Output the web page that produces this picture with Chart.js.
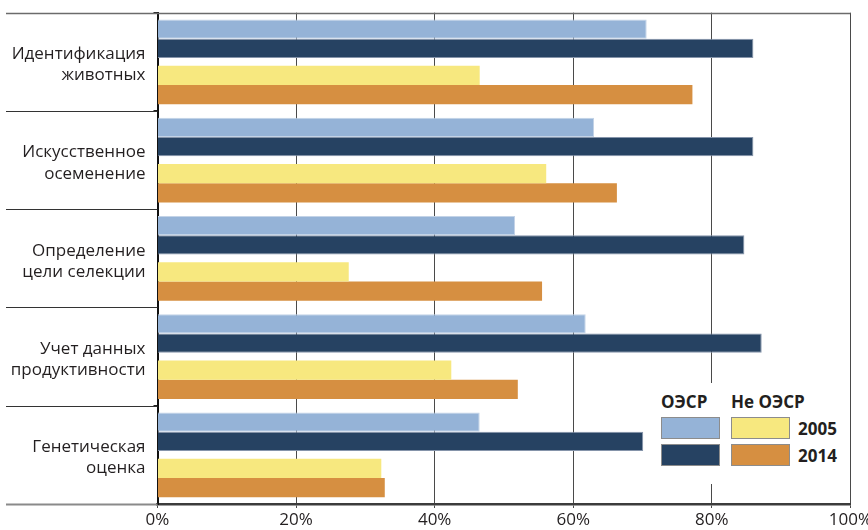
<!DOCTYPE html>
<html lang="ru">
<head>
  <meta charset="UTF-8">
  <title>Селекционные технологии: ОЭСР и не ОЭСР</title>
  <script src="https://cdn.jsdelivr.net/npm/chart.js"></script>
  <style>
    body { margin: 0; background: #fff; font-family: "Open Sans", sans-serif; color: #231f20; }
    .wrap { position: relative; width: 868px; height: 530px; }
    .legend { position: absolute; left: 650px; top: 383px; width: 198px; height: 101px; background: #fff; }
    .legend div { position: absolute; font-weight: bold; font-size: 17px; line-height: 20px; white-space: nowrap; }
    .legend .sw { box-sizing: border-box; border: 1px solid #8c8c8c; width: 59px; height: 22px; }
  </style>
</head>
<body>
  <div class="wrap">
    <canvas id="chart" width="868" height="530"></canvas>
    <div class="legend" id="legend"></div>
  </div>

  <script>
    // категории (подписи в две строки)
    const categories = [
      ['Идентификация', 'животных'],
      ['Искусственное', 'осеменение'],
      ['Определение', 'цели селекции'],
      ['Учет данных', 'продуктивности'],
      ['Генетическая', 'оценка']
    ];
    // доля стран, %
    const oecd2005 = [70.6, 63.0, 51.6, 61.8, 46.5];
    const oecd2014 = [86.0, 86.0, 84.7, 87.2, 70.1];
    const nonOecd2005 = [46.5, 56.1, 27.6, 42.4, 32.3];
    const nonOecd2014 = [77.2, 66.3, 55.5, 52.0, 32.8];

    const groupNames = ['ОЭСР', 'Не ОЭСР'];
    const years = ['2005', '2014'];
    const xTicks = [0, 20, 40, 60, 80, 100];

    const colors = {
      oecd2005: '#95b3d7',
      oecd2014: '#264262',
      non2005: '#f7e87f',
      non2014: '#d68f41'
    };

    // пары столбиков вплотную, между парами небольшой зазор
    const outer = { categoryPercentage: 0.89, barPercentage: 0.882 };
    const inner = { categoryPercentage: 1.099, barPercentage: 0.715 };

    // разделители между категориями слева от оси
    const separators = {
      id: 'separators',
      afterDraw(chart) {
        const ctx = chart.ctx;
        const y = chart.scales.y;
        const area = chart.chartArea;
        const step = y.getPixelForValue(1) - y.getPixelForValue(0);
        ctx.save();
        for (let i = 0; i <= categories.length; i++) {
          const py = Math.round(y.getPixelForValue(i) - step / 2) + 0.5;
          ctx.beginPath();
          if (i === 0) {
            ctx.strokeStyle = '#6b6b6b';
            ctx.lineWidth = 1.5;
            ctx.moveTo(6, py);
            ctx.lineTo(area.right, py);
          } else if (i === categories.length) {
            ctx.strokeStyle = '#8a8a8a';
            ctx.lineWidth = 2;
            ctx.moveTo(6, py);
            ctx.lineTo(area.left, py);
          } else {
            ctx.strokeStyle = '#333';
            ctx.lineWidth = 1;
            ctx.moveTo(6, py);
            ctx.lineTo(area.left, py);
          }
          ctx.stroke();
        }
        ctx.restore();
      }
    };

    new Chart(document.getElementById('chart'), {
      type: 'bar',
      data: {
        labels: categories,
        datasets: [
          { label: groupNames[0] + ' ' + years[0], data: oecd2005, backgroundColor: colors.oecd2005, borderColor: '#c3d3e7', borderWidth: 1, ...outer },
          { label: groupNames[0] + ' ' + years[1], data: oecd2014, backgroundColor: colors.oecd2014, borderColor: '#8594aa', borderWidth: 1, ...inner },
          { label: groupNames[1] + ' ' + years[0], data: nonOecd2005, backgroundColor: colors.non2005, ...inner },
          { label: groupNames[1] + ' ' + years[1], data: nonOecd2014, backgroundColor: colors.non2014, ...outer }
        ]
      },
      options: {
        indexAxis: 'y',
        responsive: false,
        animation: false,
        devicePixelRatio: 1,
        layout: { padding: { top: 12.7, right: 17.6, left: 0, bottom: 0 } },
        plugins: {
          legend: { display: false },
          tooltip: { enabled: false }
        },
        scales: {
          x: {
            min: 0,
            max: 100,
            afterFit: s => { s.height = 26; s.paddingLeft = 0; s.paddingRight = 0; },
            afterBuildTicks: s => { s.ticks = xTicks.map(v => ({ value: v })); },
            ticks: {
              callback: v => v + '%',
              color: '#231f20',
              font: { family: 'Open Sans', size: 17 },
              padding: 2,
              maxRotation: 0
            },
            grid: { color: '#4a4a4a', lineWidth: 1, tickLength: 4 },
            border: { color: '#3c3c3c', width: 2.5 }
          },
          y: {
            afterFit: s => { s.width = 157.5; s.paddingTop = 0; s.paddingBottom = 0; },
            ticks: {
              color: '#231f20',
              font: { family: 'Open Sans', size: 17, lineHeight: 1.25 },
              padding: 8,
              labelOffset: 3
            },
            grid: { drawOnChartArea: false, color: '#222', tickLength: 4 },
            border: { color: '#111', width: 2 }
          }
        }
      },
      plugins: [separators]
    });

    // легенда: два столбца (ОЭСР / Не ОЭСР) × два года
    const legend = document.getElementById('legend');
    const swatch = [[colors.oecd2005, colors.non2005], [colors.oecd2014, colors.non2014]];
    const colX = [11, 81];
    const rowY = [34, 61];
    groupNames.forEach((g, c) => {
      const d = document.createElement('div');
      d.textContent = g;
      d.style.left = colX[c] + 'px';
      d.style.top = '9px';
      legend.appendChild(d);
    });
    years.forEach((yr, r) => {
      swatch[r].forEach((col, c) => {
        const s = document.createElement('div');
        s.className = 'sw';
        s.style.left = colX[c] + 'px';
        s.style.top = rowY[r] + 'px';
        s.style.background = col;
        legend.appendChild(s);
      });
      const t = document.createElement('div');
      t.textContent = yr;
      t.style.left = '148px';
      t.style.top = (rowY[r] + 2) + 'px';
      legend.appendChild(t);
    });
  </script>
</body>
</html>
